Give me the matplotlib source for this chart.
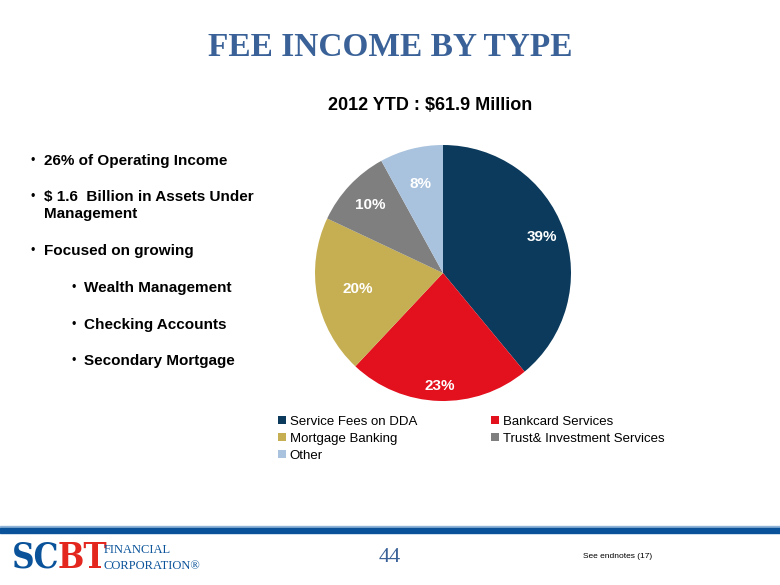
"""Fee income by type - pie slide recreation"""

import numpy as np
import matplotlib.pyplot as plt
from matplotlib.patches import Rectangle

# Data
categories = ['Service Fees on DDA', 'Bankcard Services', 'Mortgage Banking',
              'Trust& Investment Services', 'Other']
shares = [39, 23, 20, 10, 8]
colors = ['#0B3A5C', '#E3101E', '#C6AF52', '#7F7F7F', '#A9C2DD']
label_dist = [0.82, 0.88, 0.68, 0.78, 0.72]

bullets = ['26% of Operating Income',
           '$ 1.6  Billion in Assets Under\nManagement',
           'Focused on growing']
sub_bullets = ['Wealth Management', 'Checking Accounts', 'Secondary Mortgage']

W, H = 780, 585
fig = plt.figure(figsize=(W / 100, H / 100), dpi=100)


def fx(x):
    return x / W


def fy(y):
    return 1 - y / H


# Title
fig.text(fx(390), fy(48), 'FEE INCOME BY TYPE', ha='center', va='center',
         fontsize=24, fontweight='bold', family='Liberation Serif', color='#3A6298')
fig.text(fx(430), fy(105), '2012 YTD : $61.9 Million', ha='center', va='center',
         fontsize=13, fontweight='bold', family='Liberation Sans')

# Bullets on the left
for y, b in zip([161, 197, 251], bullets):
    fig.text(fx(31), fy(y), '\u2022', ha='left', va='center', fontsize=9,
             family='Liberation Sans')
    fig.text(fx(44), fy(y) + 7 / H, b, ha='left', va='top', fontsize=11,
             fontweight='bold', family='Liberation Sans', linespacing=1.25)
for y, b in zip([288, 325, 361], sub_bullets):
    fig.text(fx(72), fy(y), '\u2022', ha='left', va='center', fontsize=9,
             family='Liberation Sans')
    fig.text(fx(84), fy(y), b, ha='left', va='center', fontsize=11,
             fontweight='bold', family='Liberation Sans')

# Pie
cx, cy, r = 443, 273, 128
ax = fig.add_axes([fx(cx - r), fy(cy + r), 2 * r / W, 2 * r / H])
wedges, _ = ax.pie(shares, colors=colors, startangle=90, counterclock=False,
                   wedgeprops=dict(linewidth=0))
for w, s, d in zip(wedges, shares, label_dist):
    ang = np.deg2rad((w.theta1 + w.theta2) / 2)
    ax.text(d * np.cos(ang), d * np.sin(ang), f'{s}%', ha='center', va='center',
            color='white', fontsize=11, fontweight='bold', family='Liberation Sans')
ax.set_xlim(-1, 1)
ax.set_ylim(-1, 1)
ax.set_aspect('equal')

# Legend (row-wise order like the original)
order = [0, 2, 4, 1, 3]
fig.legend([wedges[i] for i in order], [categories[i] for i in order],
           loc='upper left', bbox_to_anchor=(fx(266), fy(404)),
           ncol=2, frameon=False, handlelength=0.6, handleheight=0.6,
           handletextpad=0.3, columnspacing=5.6, labelspacing=0.38,
           prop={'family': 'Liberation Sans', 'size': 9.5})

# Footer lines
fig.patches.append(Rectangle((0, fy(527)), 1, 1 / H, transform=fig.transFigure,
                             color='#8FB3D9', zorder=1))
fig.patches.append(Rectangle((0, fy(533)), 1, 5 / H, transform=fig.transFigure,
                             color='#0A539A', zorder=1))

# Logo
fig.text(fx(12), fy(558), 'SC', ha='left', va='center', fontsize=25, fontweight='bold',
         family='DejaVu Serif', fontstretch='condensed', color='#0A539A')
fig.text(fx(58), fy(558), 'BT', ha='left', va='center', fontsize=25, fontweight='bold',
         family='DejaVu Serif', fontstretch='condensed', color='#E3261E')
fig.text(fx(104), fy(550), 'FINANCIAL', ha='left', va='center', fontsize=9,
         family='Liberation Serif', color='#0A539A')
fig.text(fx(104), fy(566), 'CORPORATION\u00ae', ha='left', va='center', fontsize=9,
         family='Liberation Serif', color='#0A539A')

# Page number and endnote
fig.text(fx(390), fy(557), '44', ha='center', va='center', fontsize=16,
         family='Liberation Serif', color='#3A6298')
fig.text(fx(583), fy(557), 'See endnotes (17)', ha='left', va='center', fontsize=6,
         family='Liberation Sans')

fig.savefig('out.png', dpi=100)
